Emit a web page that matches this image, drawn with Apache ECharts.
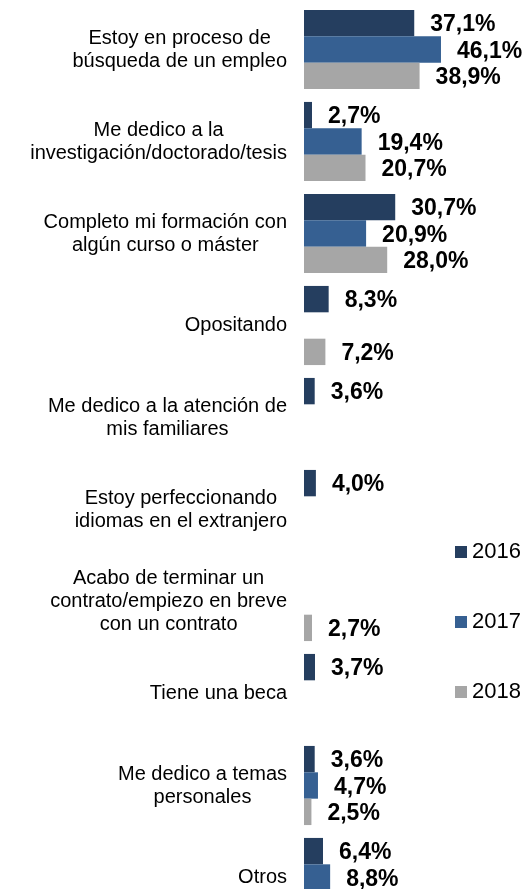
<!DOCTYPE html>
<html>
<head>
<meta charset="utf-8">
<script src="https://cdn.jsdelivr.net/npm/echarts@6/dist/echarts.min.js"></script>
<style>
  html, body { margin: 0; padding: 0; background: #fff; overflow: hidden; width: 529px; height: 889px; }
  #chart { width: 529px; height: 924px; }
</style>
</head>
<body>
<div id="chart"></div>
<script>
// Situación actual de los titulados, por año de encuesta (%)
const categories = [
  'Estoy en proceso de\nbúsqueda de un empleo',
  'Me dedico a la\ninvestigación/doctorado/tesis',
  'Completo mi formación con\nalgún curso o máster',
  'Opositando',
  'Me dedico a la atención de\nmis familiares',
  'Estoy perfeccionando\nidiomas en el extranjero',
  'Acabo de terminar un\ncontrato/empiezo en breve\ncon un contrato',
  'Tiene una beca',
  'Me dedico a temas\npersonales',
  'Otros'
];
const years = ['2016', '2017', '2018'];
const values2016 = [37.1, 2.7, 30.7, 8.3, 3.6, 4.0, null, 3.7, 3.6, 6.4];
const values2017 = [46.1, 19.4, 20.9, null, null, null, null, null, 4.7, 8.8];
const values2018 = [38.9, 20.7, 28.0, 7.2, null, null, 2.7, null, 2.5, null];

const colors = ['#253E5F', '#366092', '#A6A6A6'];
const FONT = '"Liberation Sans", Arial, sans-serif';

function pct(v) {
  return v.toFixed(1).replace('.', ',') + '%';
}

function barSeries(name, data, color) {
  return {
    name: name,
    type: 'bar',
    data: data,
    barGap: '0%',
    barCategoryGap: '14%',
    itemStyle: { color: color },
    label: {
      show: true,
      position: 'right',
      distance: 16,
      offset: [0, 2],
      color: '#000',
      fontFamily: FONT,
      fontWeight: 'bold',
      fontSize: 23,
      formatter: p => pct(p.value)
    }
  };
}

const chart = echarts.init(document.getElementById('chart'), null, { renderer: 'canvas' });
chart.setOption({
  animation: false,
  backgroundColor: '#fff',
  grid: { left: 304, top: 3.5, width: 208, height: 920, containLabel: false },
  xAxis: {
    type: 'value',
    min: 0,
    max: 70,
    show: false
  },
  yAxis: {
    type: 'category',
    inverse: true,
    data: categories,
    axisLine: { show: false },
    axisTick: { show: false },
    splitLine: { show: false },
    axisLabel: {
      margin: 17,
      align: 'right',
      fontFamily: FONT,
      formatter: v => v.split('\n').map(s => '{c|' + s + '}').join('\n'),
      rich: {
        c: { align: 'center', fontSize: 20, lineHeight: 23, color: '#000', fontFamily: FONT }
      }
    }
  },
  legend: {
    orient: 'vertical',
    left: 450,
    top: 536,
    icon: 'rect',
    itemWidth: 12,
    itemHeight: 12,
    itemGap: 48,
    data: years,
    textStyle: { fontSize: 22, color: '#000', fontFamily: FONT }
  },
  series: [
    barSeries(years[0], values2016, colors[0]),
    barSeries(years[1], values2017, colors[1]),
    barSeries(years[2], values2018, colors[2])
  ]
});
</script>
</body>
</html>
